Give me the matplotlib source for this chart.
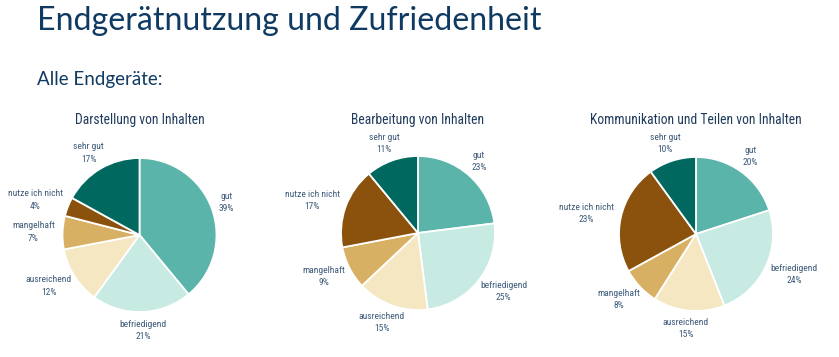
import matplotlib as mpl
mpl.use('Agg')
import matplotlib.pyplot as plt
import numpy as np

# categories in drawing order (clockwise from 12 o'clock)
categories = ["gut", "befriedigend", "ausreichend", "mangelhaft", "nutze ich nicht", "sehr gut"]
colors = ["#5BB4AA", "#C7EAE3", "#F6E7C3", "#D8B063", "#8B520E", "#00685E"]

titles = ["Darstellung von Inhalten", "Bearbeitung von Inhalten",
          "Kommunikation und Teilen von Inhalten"]
darstellung = [39, 21, 12, 7, 4, 17]
bearbeitung = [23, 25, 15, 9, 17, 11]
kommunikation = [20, 24, 15, 8, 23, 10]
series = [darstellung, bearbeitung, kommunikation]

narrow = ['Liberation Sans Narrow', 'Roboto Condensed', 'DejaVu Sans']
title_col = "#0F3A62"
lab_col = "#3D5A78"

W, H = 839, 357
fig = plt.figure(figsize=(W / 100, H / 100), dpi=100)
fig.patch.set_facecolor("white")

fig.text(37 / W, 1 - 21 / H, "Endgerätnutzung und Zufriedenheit", fontsize=23.1,
         family=['Lato', 'DejaVu Sans'], color=title_col, va='center', ha='left')
fig.text(37 / W, 1 - 80 / H, "Alle Endgeräte:", fontsize=13.5,
         family=['Lato', 'DejaVu Sans'], color=title_col, va='center', ha='left')

# pie centres (px) and radius
centres = [(139.5, 235), (418, 233), (696, 234)]
R = 77
L = 1.5
gap = 1.1

for (cx, cy), vals, ttl in zip(centres, series, titles):
    side = 2 * R * L
    ax = fig.add_axes([(cx - side / 2) / W, (H - cy - side / 2) / H, side / W, side / H])
    ax.pie(vals, colors=colors, startangle=90, counterclock=False,
           wedgeprops=dict(edgecolor="white", linewidth=1.3))
    ax.set_xlim(-L, L)
    ax.set_ylim(-L, L)
    ax.set_aspect('equal')
    ax.axis('off')
    fig.text(cx / W, 1 - 120 / H, ttl, fontsize=9.8, family=narrow,
             color="#1F3B5C", ha='center', va='center')

    # labels outside the wedges
    tot = float(sum(vals))
    cum = 0.0
    texts = []
    for v, name in zip(vals, categories):
        mid = np.deg2rad(90 - 360 * (cum + v / 2) / tot)
        cum += v
        t = ax.text(0, 0, f"{name}\n{v}%", fontsize=6.8, family=narrow, color=lab_col,
                    ha='center', va='center', multialignment='center', linespacing=1.45)
        texts.append((t, mid))
    fig.canvas.draw()
    ppu = side / (2 * L)
    for t, mid in texts:
        bb = t.get_window_extent()
        hw = bb.width / 2 / ppu
        hh = bb.height / 2 / ppu
        c, s = np.cos(mid), np.sin(mid)
        t.set_position((gap * c + hw * c, gap * s + hh * s))

fig.savefig("out.png", dpi=100, facecolor="white")
